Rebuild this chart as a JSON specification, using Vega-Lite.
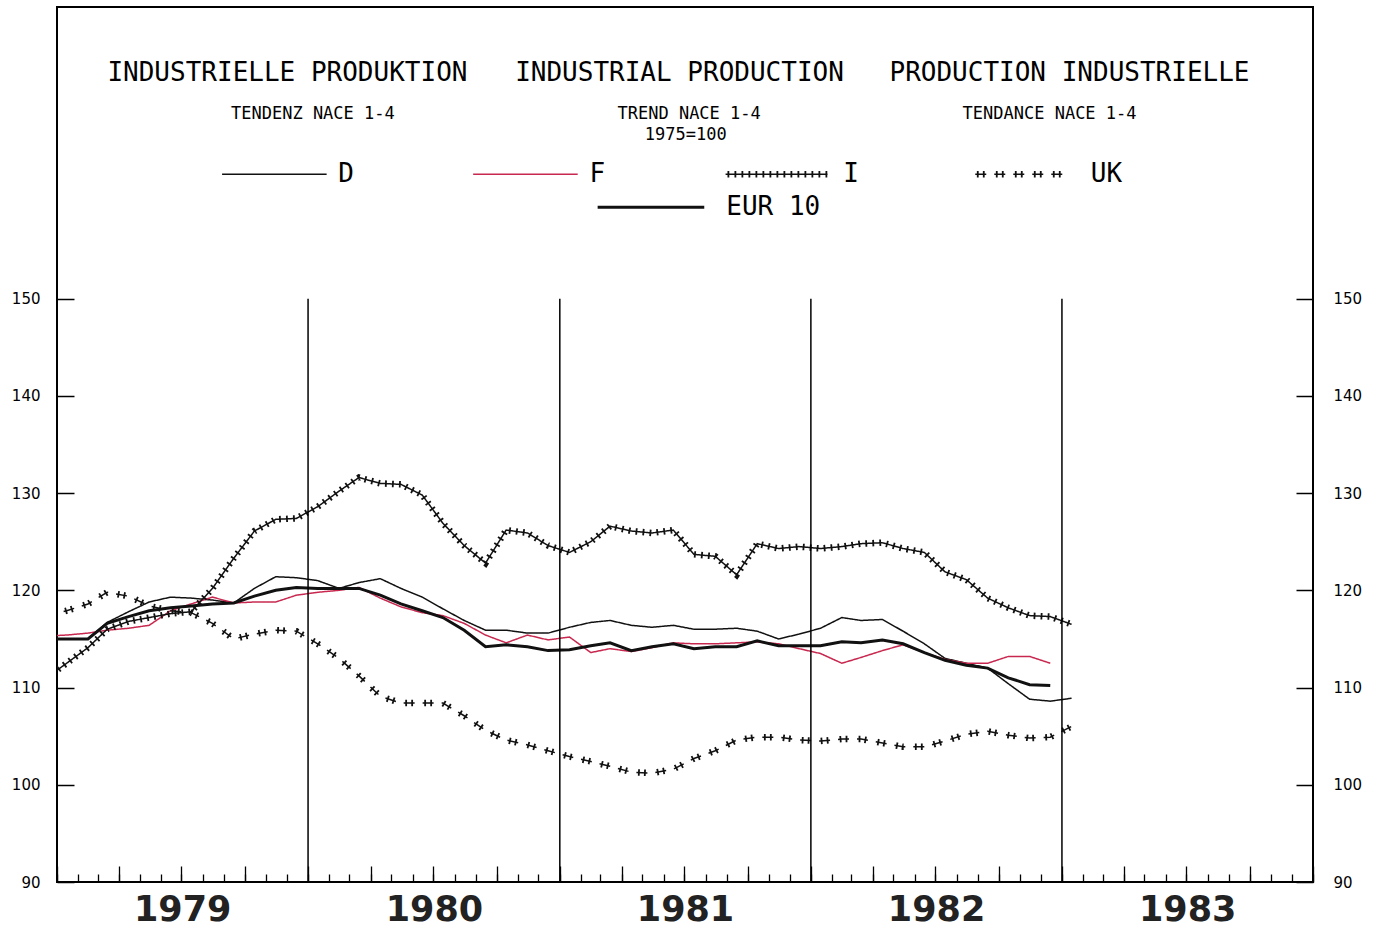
{
  "$schema": "https://vega.github.io/schema/vega-lite/v6.json",
  "width": 1256,
  "height": 875,
  "autosize": {"type": "none"},
  "padding": {"left": 57, "top": 7, "right": 60, "bottom": 47},
  "background": "white",
  "config": {"view": {"stroke": "black", "strokeWidth": 2}, "axis": {"grid": false, "domain": false}},
  "datasets": {
    "years": [{"date": "1980-01-01"}, {"date": "1981-01-01"}, {"date": "1982-01-01"}, {"date": "1983-01-01"}],
    "series": [
      {"series":"D","date":"1978-12-15","value":115.0},{"series":"D","date":"1979-01-15","value":115.0},{"series":"D","date":"1979-02-15","value":115.0},{"series":"D","date":"1979-03-15","value":116.7},{"series":"D","date":"1979-04-15","value":117.8},{"series":"D","date":"1979-05-15","value":118.8},{"series":"D","date":"1979-06-15","value":119.3},{"series":"D","date":"1979-07-15","value":119.2},{"series":"D","date":"1979-08-15","value":119.0},{"series":"D","date":"1979-09-15","value":118.7},{"series":"D","date":"1979-10-15","value":120.2},{"series":"D","date":"1979-11-15","value":121.4},{"series":"D","date":"1979-12-15","value":121.3},
      {"series":"D","date":"1980-01-15","value":121.0},{"series":"D","date":"1980-02-15","value":120.2},{"series":"D","date":"1980-03-15","value":120.8},{"series":"D","date":"1980-04-15","value":121.2},{"series":"D","date":"1980-05-15","value":120.2},{"series":"D","date":"1980-06-15","value":119.3},{"series":"D","date":"1980-07-15","value":118.1},{"series":"D","date":"1980-08-15","value":116.9},{"series":"D","date":"1980-09-15","value":115.9},{"series":"D","date":"1980-10-15","value":115.9},{"series":"D","date":"1980-11-15","value":115.6},{"series":"D","date":"1980-12-15","value":115.6},
      {"series":"D","date":"1981-01-15","value":116.2},{"series":"D","date":"1981-02-15","value":116.7},{"series":"D","date":"1981-03-15","value":116.9},{"series":"D","date":"1981-04-15","value":116.4},{"series":"D","date":"1981-05-15","value":116.2},{"series":"D","date":"1981-06-15","value":116.4},{"series":"D","date":"1981-07-15","value":116.0},{"series":"D","date":"1981-08-15","value":116.0},{"series":"D","date":"1981-09-15","value":116.1},{"series":"D","date":"1981-10-15","value":115.8},{"series":"D","date":"1981-11-15","value":115.0},{"series":"D","date":"1981-12-15","value":115.5},
      {"series":"D","date":"1982-01-15","value":116.1},{"series":"D","date":"1982-02-15","value":117.2},{"series":"D","date":"1982-03-15","value":116.9},{"series":"D","date":"1982-04-15","value":117.0},{"series":"D","date":"1982-05-15","value":115.8},{"series":"D","date":"1982-06-15","value":114.5},{"series":"D","date":"1982-07-15","value":113.0},{"series":"D","date":"1982-08-15","value":112.5},{"series":"D","date":"1982-09-15","value":112.0},{"series":"D","date":"1982-10-15","value":110.4},{"series":"D","date":"1982-11-15","value":108.8},{"series":"D","date":"1982-12-15","value":108.6},{"series":"D","date":"1983-01-15","value":108.9},

      {"series":"F","date":"1978-12-15","value":115.3},{"series":"F","date":"1979-01-15","value":115.4},{"series":"F","date":"1979-02-15","value":115.6},{"series":"F","date":"1979-03-15","value":115.9},{"series":"F","date":"1979-04-15","value":116.1},{"series":"F","date":"1979-05-15","value":116.4},{"series":"F","date":"1979-06-15","value":117.9},{"series":"F","date":"1979-07-15","value":118.6},{"series":"F","date":"1979-08-15","value":119.3},{"series":"F","date":"1979-09-15","value":118.7},{"series":"F","date":"1979-10-15","value":118.8},{"series":"F","date":"1979-11-15","value":118.8},{"series":"F","date":"1979-12-15","value":119.5},
      {"series":"F","date":"1980-01-15","value":119.8},{"series":"F","date":"1980-02-15","value":120.0},{"series":"F","date":"1980-03-15","value":120.3},{"series":"F","date":"1980-04-15","value":119.2},{"series":"F","date":"1980-05-15","value":118.3},{"series":"F","date":"1980-06-15","value":117.7},{"series":"F","date":"1980-07-15","value":117.4},{"series":"F","date":"1980-08-15","value":116.6},{"series":"F","date":"1980-09-15","value":115.4},{"series":"F","date":"1980-10-15","value":114.6},{"series":"F","date":"1980-11-15","value":115.4},{"series":"F","date":"1980-12-15","value":114.9},
      {"series":"F","date":"1981-01-15","value":115.2},{"series":"F","date":"1981-02-15","value":113.6},{"series":"F","date":"1981-03-15","value":114.0},{"series":"F","date":"1981-04-15","value":113.7},{"series":"F","date":"1981-05-15","value":114.1},{"series":"F","date":"1981-06-15","value":114.6},{"series":"F","date":"1981-07-15","value":114.5},{"series":"F","date":"1981-08-15","value":114.5},{"series":"F","date":"1981-09-15","value":114.6},{"series":"F","date":"1981-10-15","value":114.7},{"series":"F","date":"1981-11-15","value":114.5},{"series":"F","date":"1981-12-15","value":114.0},
      {"series":"F","date":"1982-01-15","value":113.5},{"series":"F","date":"1982-02-15","value":112.5},{"series":"F","date":"1982-03-15","value":113.1},{"series":"F","date":"1982-04-15","value":113.8},{"series":"F","date":"1982-05-15","value":114.4},{"series":"F","date":"1982-06-15","value":113.6},{"series":"F","date":"1982-07-15","value":112.9},{"series":"F","date":"1982-08-15","value":112.5},{"series":"F","date":"1982-09-15","value":112.5},{"series":"F","date":"1982-10-15","value":113.2},{"series":"F","date":"1982-11-15","value":113.2},{"series":"F","date":"1982-12-15","value":112.5},

      {"series":"I","date":"1978-12-15","value":110.9},{"series":"I","date":"1979-01-15","value":112.5},{"series":"I","date":"1979-02-15","value":114.1},{"series":"I","date":"1979-03-15","value":116.0},{"series":"I","date":"1979-04-15","value":116.8},{"series":"I","date":"1979-05-15","value":117.2},{"series":"I","date":"1979-06-15","value":117.6},{"series":"I","date":"1979-07-15","value":117.8},{"series":"I","date":"1979-08-15","value":120.2},{"series":"I","date":"1979-09-15","value":123.3},{"series":"I","date":"1979-10-15","value":126.1},{"series":"I","date":"1979-11-15","value":127.3},{"series":"I","date":"1979-12-15","value":127.4},
      {"series":"I","date":"1980-01-15","value":128.6},{"series":"I","date":"1980-02-15","value":130.2},{"series":"I","date":"1980-03-15","value":131.6},{"series":"I","date":"1980-04-15","value":131.0},{"series":"I","date":"1980-05-15","value":130.9},{"series":"I","date":"1980-06-15","value":129.8},{"series":"I","date":"1980-07-15","value":126.9},{"series":"I","date":"1980-08-15","value":124.6},{"series":"I","date":"1980-09-15","value":122.8},{"series":"I","date":"1980-10-15","value":126.2},{"series":"I","date":"1980-11-15","value":125.9},{"series":"I","date":"1980-12-15","value":124.6},
      {"series":"I","date":"1981-01-15","value":123.9},{"series":"I","date":"1981-02-15","value":125.0},{"series":"I","date":"1981-03-15","value":126.6},{"series":"I","date":"1981-04-15","value":126.1},{"series":"I","date":"1981-05-15","value":125.9},{"series":"I","date":"1981-06-15","value":126.2},{"series":"I","date":"1981-07-15","value":123.7},{"series":"I","date":"1981-08-15","value":123.5},{"series":"I","date":"1981-09-15","value":121.6},{"series":"I","date":"1981-10-15","value":124.8},{"series":"I","date":"1981-11-15","value":124.3},{"series":"I","date":"1981-12-15","value":124.5},
      {"series":"I","date":"1982-01-15","value":124.3},{"series":"I","date":"1982-02-15","value":124.5},{"series":"I","date":"1982-03-15","value":124.8},{"series":"I","date":"1982-04-15","value":124.9},{"series":"I","date":"1982-05-15","value":124.3},{"series":"I","date":"1982-06-15","value":123.9},{"series":"I","date":"1982-07-15","value":121.9},{"series":"I","date":"1982-08-15","value":121.1},{"series":"I","date":"1982-09-15","value":119.2},{"series":"I","date":"1982-10-15","value":118.2},{"series":"I","date":"1982-11-15","value":117.4},{"series":"I","date":"1982-12-15","value":117.3},{"series":"I","date":"1983-01-15","value":116.5},

      {"series":"UK","date":"1978-12-15","value":117.3},{"series":"UK","date":"1979-01-15","value":117.9},{"series":"UK","date":"1979-02-15","value":118.6},{"series":"UK","date":"1979-03-15","value":119.8},{"series":"UK","date":"1979-04-15","value":119.4},{"series":"UK","date":"1979-05-15","value":118.4},{"series":"UK","date":"1979-06-15","value":117.9},{"series":"UK","date":"1979-07-15","value":117.7},{"series":"UK","date":"1979-08-15","value":116.6},{"series":"UK","date":"1979-09-15","value":115.0},{"series":"UK","date":"1979-10-15","value":115.5},{"series":"UK","date":"1979-11-15","value":115.9},{"series":"UK","date":"1979-12-15","value":115.8},
      {"series":"UK","date":"1980-01-15","value":114.5},{"series":"UK","date":"1980-02-15","value":113.0},{"series":"UK","date":"1980-03-15","value":111.2},{"series":"UK","date":"1980-04-15","value":109.1},{"series":"UK","date":"1980-05-15","value":108.4},{"series":"UK","date":"1980-06-15","value":108.4},{"series":"UK","date":"1980-07-15","value":108.4},{"series":"UK","date":"1980-08-15","value":107.1},{"series":"UK","date":"1980-09-15","value":105.6},{"series":"UK","date":"1980-10-15","value":104.6},{"series":"UK","date":"1980-11-15","value":104.1},{"series":"UK","date":"1980-12-15","value":103.5},
      {"series":"UK","date":"1981-01-15","value":102.9},{"series":"UK","date":"1981-02-15","value":102.4},{"series":"UK","date":"1981-03-15","value":101.9},{"series":"UK","date":"1981-04-15","value":101.3},{"series":"UK","date":"1981-05-15","value":101.2},{"series":"UK","date":"1981-06-15","value":101.6},{"series":"UK","date":"1981-07-15","value":102.7},{"series":"UK","date":"1981-08-15","value":103.5},{"series":"UK","date":"1981-09-15","value":104.6},{"series":"UK","date":"1981-10-15","value":104.9},{"series":"UK","date":"1981-11-15","value":104.9},{"series":"UK","date":"1981-12-15","value":104.6},
      {"series":"UK","date":"1982-01-15","value":104.5},{"series":"UK","date":"1982-02-15","value":104.7},{"series":"UK","date":"1982-03-15","value":104.7},{"series":"UK","date":"1982-04-15","value":104.3},{"series":"UK","date":"1982-05-15","value":103.9},{"series":"UK","date":"1982-06-15","value":103.9},{"series":"UK","date":"1982-07-15","value":104.5},{"series":"UK","date":"1982-08-15","value":105.2},{"series":"UK","date":"1982-09-15","value":105.5},{"series":"UK","date":"1982-10-15","value":105.1},{"series":"UK","date":"1982-11-15","value":104.8},{"series":"UK","date":"1982-12-15","value":104.9},{"series":"UK","date":"1983-01-15","value":106.0},

      {"series":"EUR 10","date":"1978-12-15","value":115.0},{"series":"EUR 10","date":"1979-01-15","value":115.0},{"series":"EUR 10","date":"1979-02-15","value":115.0},{"series":"EUR 10","date":"1979-03-15","value":116.6},{"series":"EUR 10","date":"1979-04-15","value":117.3},{"series":"EUR 10","date":"1979-05-15","value":117.9},{"series":"EUR 10","date":"1979-06-15","value":118.2},{"series":"EUR 10","date":"1979-07-15","value":118.4},{"series":"EUR 10","date":"1979-08-15","value":118.6},{"series":"EUR 10","date":"1979-09-15","value":118.7},{"series":"EUR 10","date":"1979-10-15","value":119.4},{"series":"EUR 10","date":"1979-11-15","value":120.0},{"series":"EUR 10","date":"1979-12-15","value":120.3},
      {"series":"EUR 10","date":"1980-01-15","value":120.2},{"series":"EUR 10","date":"1980-02-15","value":120.2},{"series":"EUR 10","date":"1980-03-15","value":120.2},{"series":"EUR 10","date":"1980-04-15","value":119.5},{"series":"EUR 10","date":"1980-05-15","value":118.6},{"series":"EUR 10","date":"1980-06-15","value":117.9},{"series":"EUR 10","date":"1980-07-15","value":117.2},{"series":"EUR 10","date":"1980-08-15","value":115.9},{"series":"EUR 10","date":"1980-09-15","value":114.2},{"series":"EUR 10","date":"1980-10-15","value":114.4},{"series":"EUR 10","date":"1980-11-15","value":114.2},{"series":"EUR 10","date":"1980-12-15","value":113.8},
      {"series":"EUR 10","date":"1981-01-15","value":113.9},{"series":"EUR 10","date":"1981-02-15","value":114.3},{"series":"EUR 10","date":"1981-03-15","value":114.6},{"series":"EUR 10","date":"1981-04-15","value":113.8},{"series":"EUR 10","date":"1981-05-15","value":114.2},{"series":"EUR 10","date":"1981-06-15","value":114.5},{"series":"EUR 10","date":"1981-07-15","value":114.0},{"series":"EUR 10","date":"1981-08-15","value":114.2},{"series":"EUR 10","date":"1981-09-15","value":114.2},{"series":"EUR 10","date":"1981-10-15","value":114.8},{"series":"EUR 10","date":"1981-11-15","value":114.3},{"series":"EUR 10","date":"1981-12-15","value":114.3},
      {"series":"EUR 10","date":"1982-01-15","value":114.3},{"series":"EUR 10","date":"1982-02-15","value":114.7},{"series":"EUR 10","date":"1982-03-15","value":114.6},{"series":"EUR 10","date":"1982-04-15","value":114.9},{"series":"EUR 10","date":"1982-05-15","value":114.5},{"series":"EUR 10","date":"1982-06-15","value":113.6},{"series":"EUR 10","date":"1982-07-15","value":112.8},{"series":"EUR 10","date":"1982-08-15","value":112.3},{"series":"EUR 10","date":"1982-09-15","value":112.0},{"series":"EUR 10","date":"1982-10-15","value":111.0},{"series":"EUR 10","date":"1982-11-15","value":110.3},{"series":"EUR 10","date":"1982-12-15","value":110.2}
    ]
  },
  "layer": [
    {
      "data": {"name": "series"},
      "transform": [{"filter": "datum.series !== 'EUR 10'"}],
      "mark": {"type": "line", "clip": true, "strokeWidth": 1.5},
      "encoding": {
        "x": {"field": "date", "type": "temporal",
          "scale": {"type": "utc", "domain": [{"year": 1979, "month": 1, "date": 1, "utc": true}, {"year": 1984, "month": 1, "date": 1, "utc": true}], "nice": false},
          "axis": {"orient": "bottom", "title": null, "labels": false, "domain": false, "grid": false, "tickCount": {"interval": "month", "step": 1}, "tickSize": -8, "tickColor": "black", "tickWidth": 1.3}},
        "y": {"field": "value", "type": "quantitative",
          "scale": {"domain": [90, 180], "nice": false, "zero": false},
          "axis": {"orient": "left", "title": null, "values": [90, 100, 110, 120, 130, 140, 150], "tickSize": -17, "labelPadding": 34, "tickColor": "black", "tickWidth": 1.5, "labelFont": "DejaVu Sans", "labelFontSize": 15, "labelColor": "black", "domain": false, "grid": false}},
        "color": {"field": "series", "type": "nominal", "scale": {"domain": ["D", "F", "I", "UK"], "range": ["#111111", "#c8284f", "#111111", "#111111"]}, "legend": null},
        "strokeDash": {"field": "series", "type": "nominal", "scale": {"domain": ["D", "F", "I", "UK"], "range": [[1, 0], [1, 0], [1, 0], [11, 8]]}, "legend": null}
      }
    },
    {
      "data": {"name": "series"},
      "transform": [{"filter": "datum.series === 'EUR 10'"}],
      "mark": {"type": "line", "clip": true, "color": "#111111", "strokeWidth": 3},
      "encoding": {"x": {"field": "date", "type": "temporal", "axis": null}, "y": {"field": "value", "type": "quantitative", "axis": null}}
    },
    {
      "data": {"name": "series"},
      "transform": [{"filter": "datum.series === 'I'"}],
      "mark": {"type": "line", "clip": true, "color": "#111111", "strokeWidth": 6.5, "strokeDash": [1.8, 5.2], "strokeDashOffset": 5.1},
      "encoding": {"x": {"field": "date", "type": "temporal", "axis": null}, "y": {"field": "value", "type": "quantitative", "axis": null}}
    },
    {
      "data": {"name": "series"},
      "transform": [{"filter": "datum.series === 'UK'"}],
      "mark": {"type": "line", "clip": true, "color": "#111111", "strokeWidth": 6.5, "strokeDash": [1.8, 4.2, 1.8, 11.2], "strokeDashOffset": 17.4},
      "encoding": {"x": {"field": "date", "type": "temporal", "axis": null}, "y": {"field": "value", "type": "quantitative", "axis": null}}
    },
    {
      "data": {"name": "years"},
      "mark": {"type": "rule", "color": "black", "strokeWidth": 1.5},
      "encoding": {
        "x": {"field": "date", "type": "temporal",
          "axis": {"orient": "bottom", "title": null, "labels": false, "domain": false, "grid": false, "tickCount": {"interval": "month", "step": 3}, "tickSize": -16, "tickColor": "black", "tickWidth": 1.3}},
        "y": {"datum": 90, "type": "quantitative",
          "axis": {"orient": "right", "title": null, "values": [90, 100, 110, 120, 130, 140, 150], "tickSize": -17, "labelPadding": 37, "tickColor": "black", "tickWidth": 1.5, "labelFont": "DejaVu Sans", "labelFontSize": 15, "labelColor": "black", "domain": false, "grid": false}},
        "y2": {"datum": 150}
      }
    },
    {
      "data": {"values": [{}]},
      "mark": {"type": "text", "font": "DejaVu Sans Mono", "fontSize": 26, "align": "center", "baseline": "middle", "color": "black"},
      "encoding": {
        "x": {"datum": {"year": 1979, "month": 12, "date": 2, "utc": true}, "type": "temporal",
          "axis": {"orient": "bottom", "title": null, "values": [{"year": 1979, "month": 7, "date": 2, "utc": true}, {"year": 1980, "month": 7, "date": 2, "utc": true}, {"year": 1981, "month": 7, "date": 2, "utc": true}, {"year": 1982, "month": 7, "date": 2, "utc": true}, {"year": 1983, "month": 7, "date": 2, "utc": true}],
            "ticks": false, "domain": false, "grid": false, "format": "%Y", "labelFont": "DejaVu Sans", "labelFontSize": 35, "labelFontWeight": "bold", "labelColor": "#222222", "labelPadding": 10, "labelFlush": false, "labelOverlap": false}},
        "y": {"datum": 173.25, "type": "quantitative", "axis": null},
        "text": {"value": "INDUSTRIELLE PRODUKTION"}
      }
    },
    {
      "data": {"values": [{}]},
      "mark": {"type": "text", "font": "DejaVu Sans Mono", "fontSize": 26, "align": "center", "baseline": "middle", "color": "black"},
      "encoding": {
        "x": {"datum": {"year": 1981, "month": 6, "date": 24, "utc": true}, "type": "temporal", "axis": null},
        "y": {"datum": 173.25, "type": "quantitative", "axis": null},
        "text": {"value": "INDUSTRIAL PRODUCTION"}
      }
    },
    {
      "data": {"values": [{}]},
      "mark": {"type": "text", "font": "DejaVu Sans Mono", "fontSize": 26, "align": "center", "baseline": "middle", "color": "black"},
      "encoding": {
        "x": {"datum": {"year": 1983, "month": 1, "date": 12, "utc": true}, "type": "temporal", "axis": null},
        "y": {"datum": 173.25, "type": "quantitative", "axis": null},
        "text": {"value": "PRODUCTION INDUSTRIELLE"}
      }
    },
    {
      "data": {"values": [{}]},
      "mark": {"type": "text", "font": "DejaVu Sans Mono", "fontSize": 17, "align": "center", "baseline": "middle", "color": "black"},
      "encoding": {
        "x": {"datum": {"year": 1980, "month": 1, "date": 8, "utc": true}, "type": "temporal", "axis": null},
        "y": {"datum": 169.0, "type": "quantitative", "axis": null},
        "text": {"value": "TENDENZ  NACE 1-4"}
      }
    },
    {
      "data": {"values": [{}]},
      "mark": {"type": "text", "font": "DejaVu Sans Mono", "fontSize": 17, "align": "center", "baseline": "middle", "color": "black"},
      "encoding": {
        "x": {"datum": {"year": 1981, "month": 7, "date": 8, "utc": true}, "type": "temporal", "axis": null},
        "y": {"datum": 169.0, "type": "quantitative", "axis": null},
        "text": {"value": "TREND  NACE 1-4"}
      }
    },
    {
      "data": {"values": [{}]},
      "mark": {"type": "text", "font": "DejaVu Sans Mono", "fontSize": 17, "align": "center", "baseline": "middle", "color": "black"},
      "encoding": {
        "x": {"datum": {"year": 1981, "month": 7, "date": 3, "utc": true}, "type": "temporal", "axis": null},
        "y": {"datum": 166.83, "type": "quantitative", "axis": null},
        "text": {"value": "1975=100"}
      }
    },
    {
      "data": {"values": [{}]},
      "mark": {"type": "text", "font": "DejaVu Sans Mono", "fontSize": 17, "align": "center", "baseline": "middle", "color": "black"},
      "encoding": {
        "x": {"datum": {"year": 1982, "month": 12, "date": 14, "utc": true}, "type": "temporal", "axis": null},
        "y": {"datum": 169.0, "type": "quantitative", "axis": null},
        "text": {"value": "TENDANCE  NACE 1-4"}
      }
    },
    {
      "data": {"values": [{}]},
      "mark": {"type": "rule", "color": "#111111", "strokeWidth": 1.5},
      "encoding": {
        "x": {"datum": {"year": 1979, "month": 8, "date": 29, "utc": true}, "type": "temporal", "axis": null},
        "x2": {"datum": {"year": 1980, "month": 1, "date": 28, "utc": true}},
        "y": {"datum": 162.8, "type": "quantitative", "axis": null}
      }
    },
    {
      "data": {"values": [{}]},
      "mark": {"type": "rule", "color": "#c8284f", "strokeWidth": 1.5},
      "encoding": {
        "x": {"datum": {"year": 1980, "month": 8, "date": 28, "utc": true}, "type": "temporal", "axis": null},
        "x2": {"datum": {"year": 1981, "month": 1, "date": 27, "utc": true}},
        "y": {"datum": 162.8, "type": "quantitative", "axis": null}
      }
    },
    {
      "data": {"values": [{}]},
      "mark": {"type": "rule", "color": "#111111", "strokeWidth": 1.5},
      "encoding": {
        "x": {"datum": {"year": 1981, "month": 8, "date": 30, "utc": true}, "type": "temporal", "axis": null},
        "x2": {"datum": {"year": 1982, "month": 1, "date": 25, "utc": true}},
        "y": {"datum": 162.8, "type": "quantitative", "axis": null}
      }
    },
    {
      "data": {"values": [{}]},
      "mark": {"type": "rule", "color": "#111111", "strokeWidth": 6.5, "strokeDash": [1.8, 5.2], "strokeDashOffset": 5.1},
      "encoding": {
        "x": {"datum": {"year": 1981, "month": 8, "date": 30, "utc": true}, "type": "temporal", "axis": null},
        "x2": {"datum": {"year": 1982, "month": 1, "date": 25, "utc": true}},
        "y": {"datum": 162.8, "type": "quantitative", "axis": null}
      }
    },
    {
      "data": {"values": [{}]},
      "mark": {"type": "rule", "color": "#111111", "strokeWidth": 1.5, "strokeDash": [11, 8]},
      "encoding": {
        "x": {"datum": {"year": 1982, "month": 8, "date": 28, "utc": true}, "type": "temporal", "axis": null},
        "x2": {"datum": {"year": 1983, "month": 1, "date": 13, "utc": true}},
        "y": {"datum": 162.8, "type": "quantitative", "axis": null}
      }
    },
    {
      "data": {"values": [{}]},
      "mark": {"type": "rule", "color": "#111111", "strokeWidth": 6.5, "strokeDash": [1.8, 4.2, 1.8, 11.2], "strokeDashOffset": 17.4},
      "encoding": {
        "x": {"datum": {"year": 1982, "month": 8, "date": 28, "utc": true}, "type": "temporal", "axis": null},
        "x2": {"datum": {"year": 1983, "month": 1, "date": 13, "utc": true}},
        "y": {"datum": 162.8, "type": "quantitative", "axis": null}
      }
    },
    {
      "data": {"values": [{}]},
      "mark": {"type": "rule", "color": "#111111", "strokeWidth": 3},
      "encoding": {
        "x": {"datum": {"year": 1981, "month": 2, "date": 25, "utc": true}, "type": "temporal", "axis": null},
        "x2": {"datum": {"year": 1981, "month": 7, "date": 30, "utc": true}},
        "y": {"datum": 159.4, "type": "quantitative", "axis": null}
      }
    },
    {
      "data": {"values": [{}]},
      "mark": {"type": "text", "font": "DejaVu Sans Mono", "fontSize": 26, "align": "left", "baseline": "middle", "color": "black"},
      "encoding": {
        "x": {"datum": {"year": 1980, "month": 2, "date": 14, "utc": true}, "type": "temporal", "axis": null},
        "y": {"datum": 162.8, "type": "quantitative", "axis": null},
        "text": {"value": "D"}
      }
    },
    {
      "data": {"values": [{}]},
      "mark": {"type": "text", "font": "DejaVu Sans Mono", "fontSize": 26, "align": "left", "baseline": "middle", "color": "black"},
      "encoding": {
        "x": {"datum": {"year": 1981, "month": 2, "date": 13, "utc": true}, "type": "temporal", "axis": null},
        "y": {"datum": 162.8, "type": "quantitative", "axis": null},
        "text": {"value": "F"}
      }
    },
    {
      "data": {"values": [{}]},
      "mark": {"type": "text", "font": "DejaVu Sans Mono", "fontSize": 26, "align": "left", "baseline": "middle", "color": "black"},
      "encoding": {
        "x": {"datum": {"year": 1982, "month": 2, "date": 17, "utc": true}, "type": "temporal", "axis": null},
        "y": {"datum": 162.8, "type": "quantitative", "axis": null},
        "text": {"value": "I"}
      }
    },
    {
      "data": {"values": [{}]},
      "mark": {"type": "text", "font": "DejaVu Sans Mono", "fontSize": 26, "align": "left", "baseline": "middle", "color": "black"},
      "encoding": {
        "x": {"datum": {"year": 1983, "month": 2, "date": 12, "utc": true}, "type": "temporal", "axis": null},
        "y": {"datum": 162.8, "type": "quantitative", "axis": null},
        "text": {"value": "UK"}
      }
    },
    {
      "data": {"values": [{}]},
      "mark": {"type": "text", "font": "DejaVu Sans Mono", "fontSize": 26, "align": "left", "baseline": "middle", "color": "black"},
      "encoding": {
        "x": {"datum": {"year": 1981, "month": 8, "date": 31, "utc": true}, "type": "temporal", "axis": null},
        "y": {"datum": 159.4, "type": "quantitative", "axis": null},
        "text": {"value": "EUR 10"}
      }
    }
  ],
  "resolve": {"axis": {"x": "independent", "y": "independent"}}
}
